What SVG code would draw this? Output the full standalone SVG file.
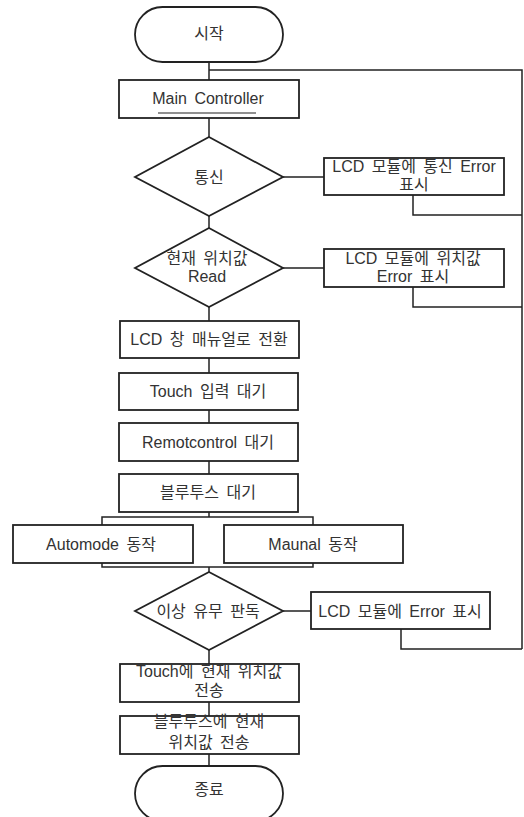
<svg xmlns="http://www.w3.org/2000/svg" width="524" height="817" viewBox="0 0 524 817">
<style>
.shape{fill:#fff;stroke:#222;stroke-width:1.8}
.conn{fill:none;stroke:#222;stroke-width:1.5}
text{font-family:"Liberation Sans","Noto Sans CJK KR",sans-serif;font-size:16px;fill:#333;text-anchor:middle;word-spacing:3px}
</style>
<rect width="524" height="817" fill="#fff"/>
<g id="connectors">
<path class="conn" d="M209,62V80M209,70H522V649M413,195V215H522M413,287V307H522M401,629V649H522"/>
<path class="conn" d="M209,118V137M283,177H324M209,216V228M283,268H324M209,307V321M209,358V373M209,410V423M209,461V474"/>
<path class="conn" d="M209,512V517M102,525V517H313V525M102,563V567H313V563M209,567V572M283,611H311M209,650V664M209,702V716M209,754V766"/>
</g>
<g id="start"><rect class="shape" x="135" y="7" width="148" height="55" rx="27.5"/><text x="209" y="39">시작</text></g>
<g id="main"><rect class="shape" x="119" y="80" width="180" height="38"/><text x="208" y="104">Main Controller</text><line x1="158" y1="113" x2="256" y2="113" stroke="#222" stroke-width="1.2"/></g>
<g id="comm"><polygon class="shape" points="209,137 283,177 209,216 135,177"/><text x="209" y="183">통신</text></g>
<g id="commErr"><rect class="shape" x="324" y="158" width="180" height="37"/><text x="414" y="172">LCD 모듈에 통신 Error</text><text x="414" y="190">표시</text></g>
<g id="readPos"><polygon class="shape" points="209,228 283,268 209,307 135,268"/><text x="207" y="264">현재 위치값</text><text x="207" y="282">Read</text></g>
<g id="posErr"><rect class="shape" x="324" y="249" width="180" height="38"/><text x="413" y="264">LCD 모듈에 위치값</text><text x="413" y="282">Error 표시</text></g>
<g id="lcdManual"><rect class="shape" x="120" y="321" width="179" height="37"/><text x="209" y="345">LCD 창 매뉴얼로 전환</text></g>
<g id="touchWait"><rect class="shape" x="119" y="373" width="179" height="37"/><text x="208" y="397">Touch 입력 대기</text></g>
<g id="remoteWait"><rect class="shape" x="119" y="423" width="179" height="38"/><text x="208" y="448">Remotcontrol 대기</text></g>
<g id="btWait"><rect class="shape" x="119" y="474" width="179" height="38"/><text x="208" y="498">블루투스 대기</text></g>
<g id="automode"><rect class="shape" x="13" y="525" width="180" height="38"/><text x="101" y="550">Automode 동작</text></g>
<g id="manual"><rect class="shape" x="224" y="525" width="179" height="38"/><text x="313" y="550">Maunal 동작</text></g>
<g id="check"><polygon class="shape" points="209,572 283,611 209,650 135,611"/><text x="208" y="617">이상 유무 판독</text></g>
<g id="err"><rect class="shape" x="311" y="592" width="179" height="37"/><text x="400" y="617">LCD 모듈에 Error 표시</text></g>
<g id="touchSend"><rect class="shape" x="120" y="664" width="179" height="38"/><text x="209" y="677">Touch에 현재 위치값</text><text x="209" y="696">전송</text></g>
<g id="btSend"><rect class="shape" x="120" y="716" width="179" height="38"/><text x="209" y="727">블루투스에 현재</text><text x="209" y="748">위치값 전송</text></g>
<g id="end"><rect class="shape" x="135" y="766" width="148" height="55" rx="27.5"/><text x="209" y="795">종료</text></g>
</svg>
